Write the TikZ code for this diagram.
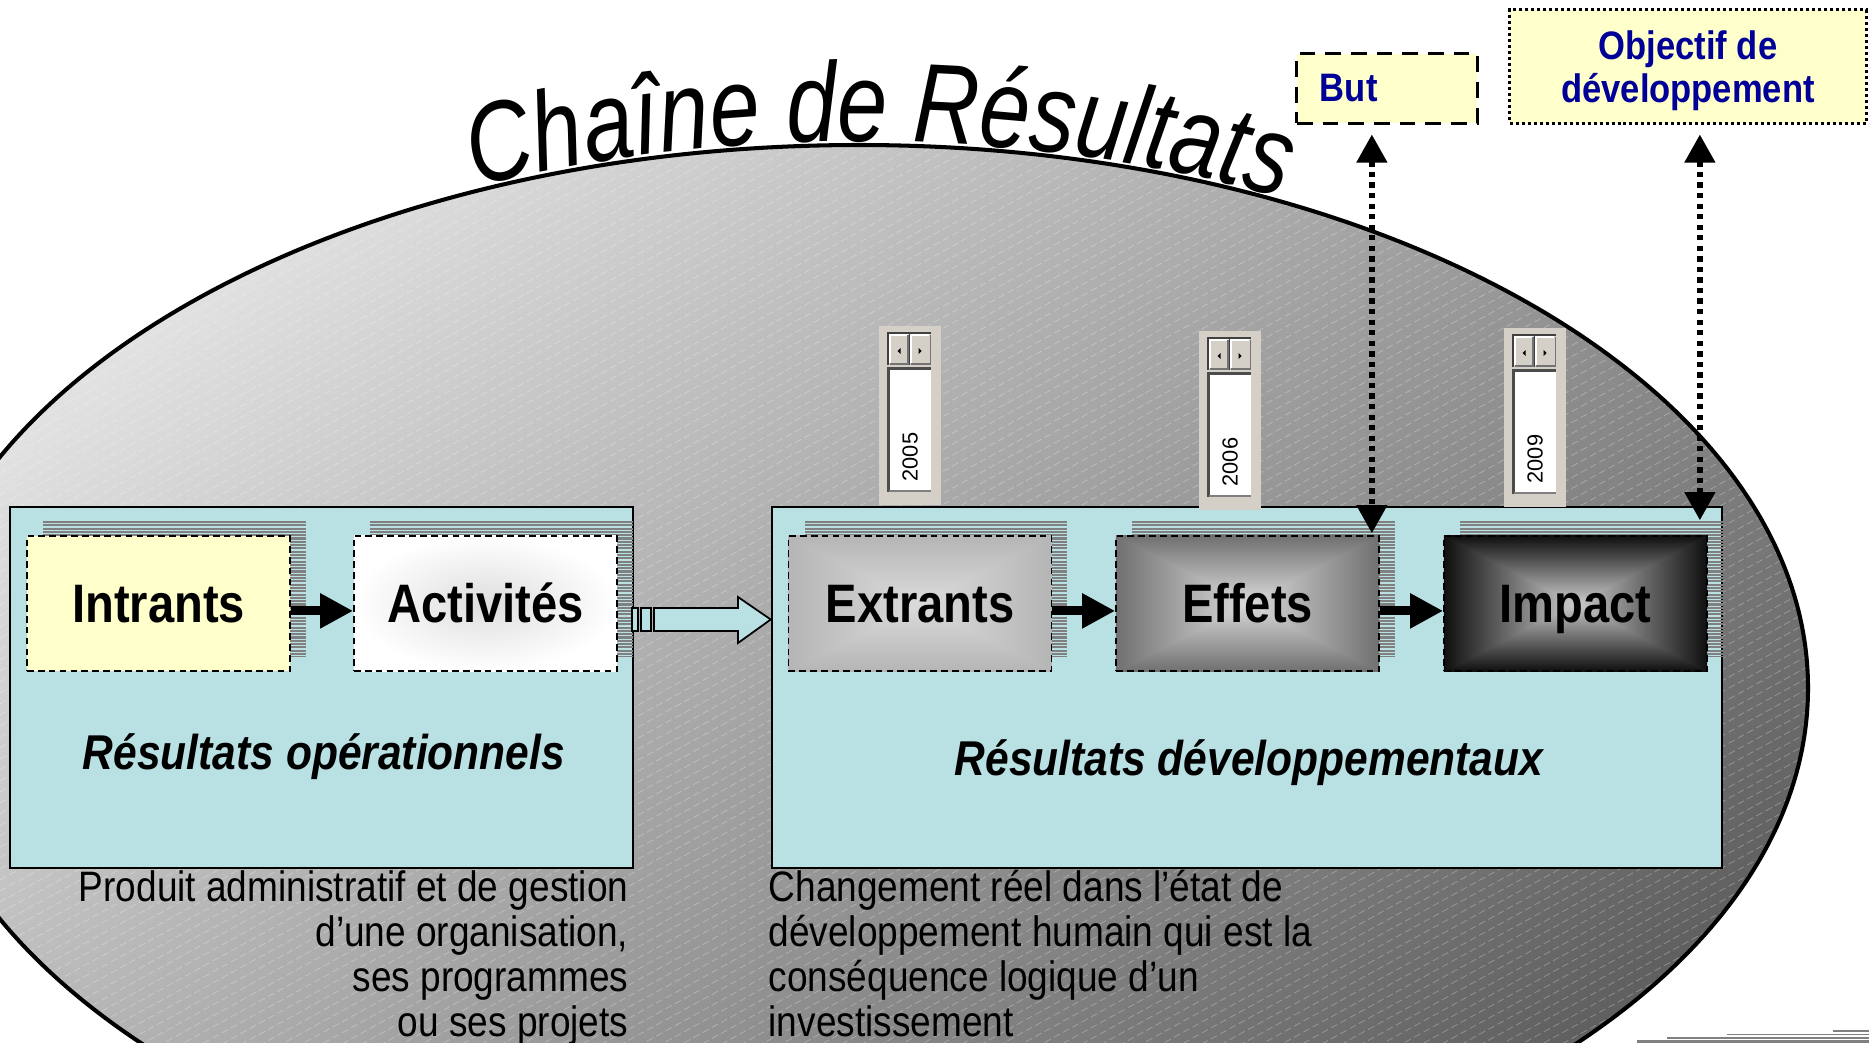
\documentclass[tikz,border=0pt]{standalone}
\usepackage{fontspec}
\setmainfont{Liberation Sans}
\newfontfamily\nsans{Liberation Sans}[FakeStretch=0.87]
\newfontfamily\titlefont{Liberation Sans}[FakeStretch=0.8]
\usetikzlibrary{arrows.meta,decorations.text,calc}

\definecolor{panelblue}{RGB}{185,224,227}
\definecolor{paleyellow}{RGB}{255,255,204}
\definecolor{navy}{RGB}{0,0,153}
\definecolor{winbg}{RGB}{212,208,200}
\definecolor{stripegray}{RGB}{128,128,128}
\definecolor{elllight}{RGB}{225,225,225}
\definecolor{elldark}{RGB}{96,96,96}

\pgfdeclarefunctionalshading{extshade}{\pgfpoint{-50bp}{-50bp}}{\pgfpoint{50bp}{50bp}}{}{abs exch abs 2 copy lt {exch} if pop 25 div dup 1 gt {pop 1} if -0.15 mul 0.86 add dup dup}
\pgfdeclarefunctionalshading{effshade}{\pgfpoint{-50bp}{-50bp}}{\pgfpoint{50bp}{50bp}}{}{abs exch abs 2 copy lt {exch} if pop 25 div dup 1 gt {pop 1} if -0.42 mul 0.86 add dup dup}
\pgfdeclarefunctionalshading{impshade}{\pgfpoint{-50bp}{-50bp}}{\pgfpoint{50bp}{50bp}}{}{abs exch abs 2 copy lt {exch} if pop 25 div dup 1 gt {pop 1} if -0.74 mul 0.80 add dup dup}

\tikzset{
 panel/.style={draw=black, line width=0.55pt, fill=panelblue, inner sep=0},
 stripe/.style={draw=stripegray, line width=0.6pt},
 chainbox/.style={draw=black, line width=0.45pt, dash pattern=on 1.9pt off 1.2pt,
   minimum width=2.63cm, minimum height=1.35cm, inner sep=0, text height=14pt, text depth=3pt,
   font=\nsans\bfseries\fontsize{15.4}{18}\selectfont},
 flow/.style={line width=2.5pt, -{Triangle[length=9.4pt,width=9.4pt]}},
 dotarrow/.style={line width=1.5pt, dash pattern=on 1.5pt off 1.5pt,
   {Triangle[length=8pt,width=8.5pt]}-{Triangle[length=8pt,width=8.5pt]}},
 hollow/.style={draw=black, line width=0.5pt, fill=panelblue},
 hatch/.style={draw=white, opacity=0.3, line width=0.2pt, dash pattern=on 2pt off 1pt},
 plabel/.style={font=\nsans\bfseries\itshape\fontsize{13.9}{16}\selectfont, inner sep=0},
 desc/.style={font=\nsans\fontsize{12.1}{14}\selectfont, inner sep=0},
 goalbox/.style={fill=paleyellow, text=navy, font=\nsans\bfseries\fontsize{11.3}{12.5}\selectfont},
 yeartext/.style={font=\fontsize{6.2}{7}\selectfont, inner sep=0},
 ellshape/.style={shift={(859,688)}},
}

\newcommand\stripes[4]{%
 \begin{scope}
  \clip (#1,#2) rectangle (#3,#4);
  \foreach \k in {0,...,45} \draw[stripe] (#1,#2+1+3.3*\k) -- (#3,#2+1+3.3*\k);
 \end{scope}}

\newcommand\spinner[4]{%
 \fill[winbg] (#2,#3) rectangle (#2+62,#3+179);
 \draw[line width=0.5pt, draw=black!75] (#2+9,#3+39) -- (#2+9,#3+7) -- (#2+52,#3+7);
 \draw[line width=0.4pt, white] (#2+11,#3+37) -- (#2+11,#3+9) -- (#2+29,#3+9);
 \draw[line width=0.4pt, white] (#2+32,#3+37) -- (#2+32,#3+9) -- (#2+50,#3+9);
 \draw[line width=0.5pt, black!55] (#2+29,#3+9) -- (#2+29,#3+38) -- (#2+11,#3+38);
 \draw[line width=0.5pt, black!55] (#2+51.5,#3+9) -- (#2+51.5,#3+38) -- (#2+32,#3+38);
 \draw[line width=0.5pt, black!75] (#2+30.5,#3+7) -- (#2+30.5,#3+39);
 \fill (#2+18.5,#3+25) -- (#2+21.5,#3+22) -- (#2+21.5,#3+28) -- cycle;
 \fill (#2+42.5,#3+25) -- (#2+39.5,#3+22) -- (#2+39.5,#3+28) -- cycle;
 \fill[white] (#2+9,#3+42) rectangle (#2+52,#3+166);
 \draw[line width=0.7pt, black!70] (#2+9.5,#3+166) -- (#2+9.5,#3+42.5) -- (#2+52,#3+42.5);
 \draw[line width=0.5pt, black!50] (#2+10,#3+165) -- (#2+52,#3+165);
 \node[yeartext, rotate=90] (#1) at (#2+31,#3+131) {#4};}

\begin{document}
\begin{tikzpicture}[x=0.01cm,y=-0.01cm]
\useasboundingbox (0,0) rectangle (1869,1042);
\clip (0,0) rectangle (1869,1042);
\fill[white] (0,0) rectangle (1869,1042);

% big ellipse
\shade[ellshape, top color=elllight, bottom color=elldark, shading angle=39.5]
  (0,0) ellipse [x radius=949, y radius=543];
\begin{scope}
 \clip[ellshape] (0,0) ellipse [x radius=949, y radius=543];
 \foreach \c in {0,11,...,2090} \draw[hatch] (0,\c) -- (1869,\c-1028);
\end{scope}
\draw[ellshape, line width=1.15pt] (0,0) ellipse [x radius=949, y radius=543];

% title
\path[ellshape, decorate,
  decoration={text along path, text align=center,
  text={|\titlefont\itshape\fontsize{32}{32}\selectfont|Chaîne de Résultats}}]
  (237.4:953 and 547) arc[start angle=237.4, end angle=305.4, x radius=953, y radius=547];

% panels
\node[panel, minimum width=6.23cm, minimum height=3.61cm] (leftpanel) at (321.5,687.5) {};
\node[panel, minimum width=9.5cm, minimum height=3.61cm] (rightpanel) at (1247,687.5) {};

% striped shadows
\stripes{43}{521}{306}{656}
\stripes{370}{521}{633}{656}
\stripes{805}{521}{1067}{656}
\stripes{1132}{521}{1395}{656}
\stripes{1460}{521}{1723}{656}

% chain boxes
\node[chainbox, fill=paleyellow] (intr) at (158.5,603.5) {Intrants};
\node[chainbox, inner color=black!13, outer color=white] (activ) at (485.5,603.5) {Activités};
\node[chainbox, shade, shading=extshade] (extr) at (920,603.5) {Extrants};
\node[chainbox, shade, shading=effshade] (effets) at (1247.5,603.5) {Effets};
\node[chainbox, shade, shading=impshade] (impact) at (1575.5,603.5) {Impact};

% flow arrows
\draw[flow] ([yshift=-2.1pt]intr.east) -- ([yshift=-2.1pt]activ.west);
\draw[flow] ([yshift=-2.1pt]extr.east) -- ([yshift=-2.1pt]effets.west);
\draw[flow] ([yshift=-2.1pt]effets.east) -- ([yshift=-2.1pt]impact.west);

% hollow block arrow between panels
\draw[hollow] (632,608) rectangle (638,631);
\draw[hollow] (641,608) rectangle (651,631);
\draw[hollow] (654,608) -- (738,608) -- (738,597) -- (rightpanel.west |- 0,619.5) -- (738,643) -- (738,631) -- (654,631) -- cycle;

% panel labels
\node[plabel, anchor=base] (oplabel) at (324,769) {Résultats opérationnels};
\node[plabel, anchor=base] (devlabel) at (1249,775) {Résultats développementaux};

% descriptions
\node[desc, anchor=base east] (l1) at (629,901) {Produit administratif et de gestion};
\node[desc, anchor=base east] (l2) at (629,946) {d’une organisation,};
\node[desc, anchor=base east] (l3) at (629,991) {ses programmes};
\node[desc, anchor=base east] (l4) at (629,1036) {ou ses projets};
\node[desc, anchor=base west] (r1) at (768,901) {Changement réel dans l’état de};
\node[desc, anchor=base west] (r2) at (768,946) {développement humain qui est la};
\node[desc, anchor=base west] (r3) at (768,991) {conséquence logique d’un};
\node[desc, anchor=base west] (r4) at (768,1036) {investissement};

% year spinners
\spinner{y2005}{879}{326}{2005}
\spinner{y2006}{1199}{331}{2006}
\spinner{y2009}{1504}{328}{2009}

% goal boxes
\node[goalbox, draw=black, line width=0.85pt, dash pattern=on 4.5pt off 2.8pt,
  text width=1.34cm, inner xsep=0.23cm, minimum height=0.69cm, align=left] (but) at (1387,88.5) {But};
\node[goalbox, draw=black, line width=0.85pt, dash pattern=on 0.85pt off 0.85pt,
  minimum width=3.56cm, minimum height=1.13cm, align=center] (obj) at (1688,66.5)
  {\rule{0pt}{10.6pt}Objectif de\\développement};

% dotted double arrows
\coordinate (effTop) at ($(effets.north east)+(-8,-2)$);
\coordinate (impTop) at ($(impact.north east)+(-8,-15)$);
\draw[dotarrow] ($(but.south -| effTop)+(0,10)$) -- (effTop);
\draw[dotarrow] ($(obj.south -| impTop)+(0,10)$) -- (impTop);

% partial striped shape at bottom right
\draw[stripe, line width=0.45pt] (1833,1031) -- (1869,1031);
\draw[stripe, line width=0.55pt] (1727,1034.5) -- (1869,1034.5);
\draw[stripe, line width=0.65pt] (1667,1038) -- (1869,1038);
\draw[stripe, line width=0.7pt] (1637,1041.5) -- (1869,1041.5);
\end{tikzpicture}
\end{document}
